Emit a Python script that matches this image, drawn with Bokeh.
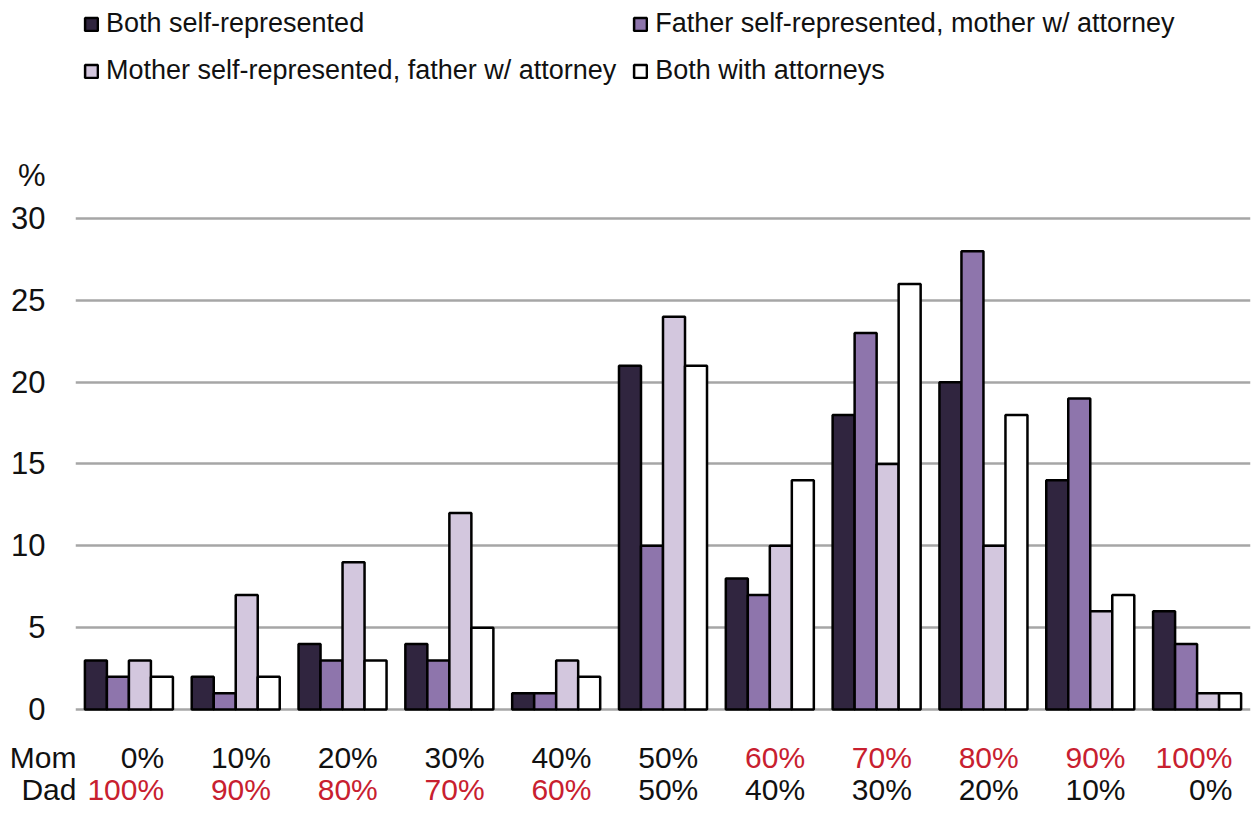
from bokeh.plotting import figure
from bokeh.models import (ColumnDataSource, Range1d, FixedTicker, Legend, LegendItem,
                          LinearAxis)
from bokeh.core.properties import value
from bokeh.embed import file_html
from bokeh.resources import INLINE

# ---------------- data ----------------
mom_labels = ["0%", "10%", "20%", "30%", "40%", "50%", "60%", "70%", "80%", "90%", "100%"]
dad_labels = ["100%", "90%", "80%", "70%", "60%", "50%", "40%", "30%", "20%", "10%", "0%"]
series_names = ["Both self-represented",
                "Father self-represented, mother w/ attorney",
                "Mother self-represented, father w/ attorney",
                "Both with attorneys"]
both_self = [3, 2, 4, 4, 1, 21, 8, 18, 20, 14, 6]
father_self = [2, 1, 3, 3, 1, 10, 7, 23, 28, 19, 4]
mother_self = [3, 7, 9, 12, 3, 24, 10, 15, 10, 6, 1]
both_att = [2, 2, 3, 5, 2, 21, 14, 26, 18, 7, 1]
y_ticks = [0, 5, 10, 15, 20, 25, 30]
unit_tick = 32.63          # where the "%" unit label sits on the value axis
row_names = ["Mom", "Dad"]
row_pos = [-2.95, -4.88]   # value-axis positions of the two label rows

# ---------------- style ----------------
FONT = "Liberation Sans"
colors = ["#30253f", "#8e75ac", "#d3c7de", "#ffffff"]
RED = "#c8202f"
TXT = "#111111"

W, H = 1255, 807
LEFT, RIGHT = 75, 5
PPU = 16.367                         # pixels per value unit

p = figure(width=W, height=H, output_backend="svg", toolbar_location=None,
           x_range=Range1d(-0.5, 10.5),
           y_range=Range1d(-(H - 709) / PPU, 709 / PPU),
           min_border_left=LEFT, min_border_right=RIGHT, min_border_top=0, min_border_bottom=0)
p.outline_line_color = None
p.xaxis.visible = False
p.xgrid.grid_line_color = None
p.ygrid.ticker = FixedTicker(ticks=y_ticks)
p.ygrid.grid_line_color = "#a6a6a6"
p.ygrid.grid_line_width = 2.5

# value axis (numbers + unit)
ya = p.yaxis[0]
ya.ticker = FixedTicker(ticks=y_ticks + [unit_tick])
overrides = {t: str(t) for t in y_ticks}
overrides[unit_tick] = "%"
ya.major_label_overrides = overrides
ya.axis_line_color = None
ya.major_tick_line_color = None
ya.minor_tick_line_color = None
ya.major_tick_out = 0
ya.major_tick_in = 0
ya.major_label_standoff = 30
ya.major_label_text_font = FONT
ya.major_label_text_font_size = "31px"
ya.major_label_text_color = TXT

# row captions "Mom" / "Dad" on an outer axis, pulled back towards the plot area
yb = LinearAxis(ticker=FixedTicker(ticks=row_pos),
                major_label_overrides={v: t for v, t in zip(row_pos, row_names)},
                axis_line_color=None, major_tick_line_color=None, minor_tick_line_color=None,
                major_tick_out=0, major_tick_in=0, major_label_standoff=-68,
                major_label_text_font=FONT, major_label_text_font_size="30px",
                major_label_text_color=TXT)
p.add_layout(yb, "left")

idx = list(range(len(mom_labels)))
bar_w = 0.206
offsets = [-1.5 * bar_w, -0.5 * bar_w, 0.5 * bar_w, 1.5 * bar_w]
all_series = [both_self, father_self, mother_self, both_att]

items = []
for s, off, col, name in zip(all_series, offsets, colors, series_names):
    src = ColumnDataSource(dict(x=[i + off for i in idx], top=s))
    r = p.vbar(x="x", top="top", width=bar_w, bottom=0, source=src,
               fill_color=col, line_color="black", line_width=2.5)
    items.append(LegendItem(label=name, renderers=[r]))

legend_items = [items[0], items[2], items[1], items[3]]
legend = Legend(items=legend_items, ncols=2, location="top_left", margin=8, padding=0,
                glyph_width=16, glyph_height=16, label_standoff=7, spacing=16,
                label_text_font=FONT, label_text_font_size="27px", label_text_color=TXT,
                border_line_color=None, background_fill_alpha=0)
p.add_layout(legend)

# category labels under the groups
mom_colors = [TXT if i <= 5 else RED for i in idx]
dad_colors = [RED if i <= 4 else TXT for i in idx]
lab_src = ColumnDataSource(dict(x=[i + 0.33 for i in idx], mom=mom_labels, dad=dad_labels,
                                mc=mom_colors, dc=dad_colors))
p.text(x="x", y=row_pos[0], text="mom", text_color="mc", source=lab_src,
       text_font=value(FONT), text_font_size="30px", text_align="right",
       text_baseline="middle")
p.text(x="x", y=row_pos[1], text="dad", text_color="dc", source=lab_src,
       text_font=value(FONT), text_font_size="30px", text_align="right",
       text_baseline="middle")

open("out.html", "w").write(file_html(p, INLINE))
